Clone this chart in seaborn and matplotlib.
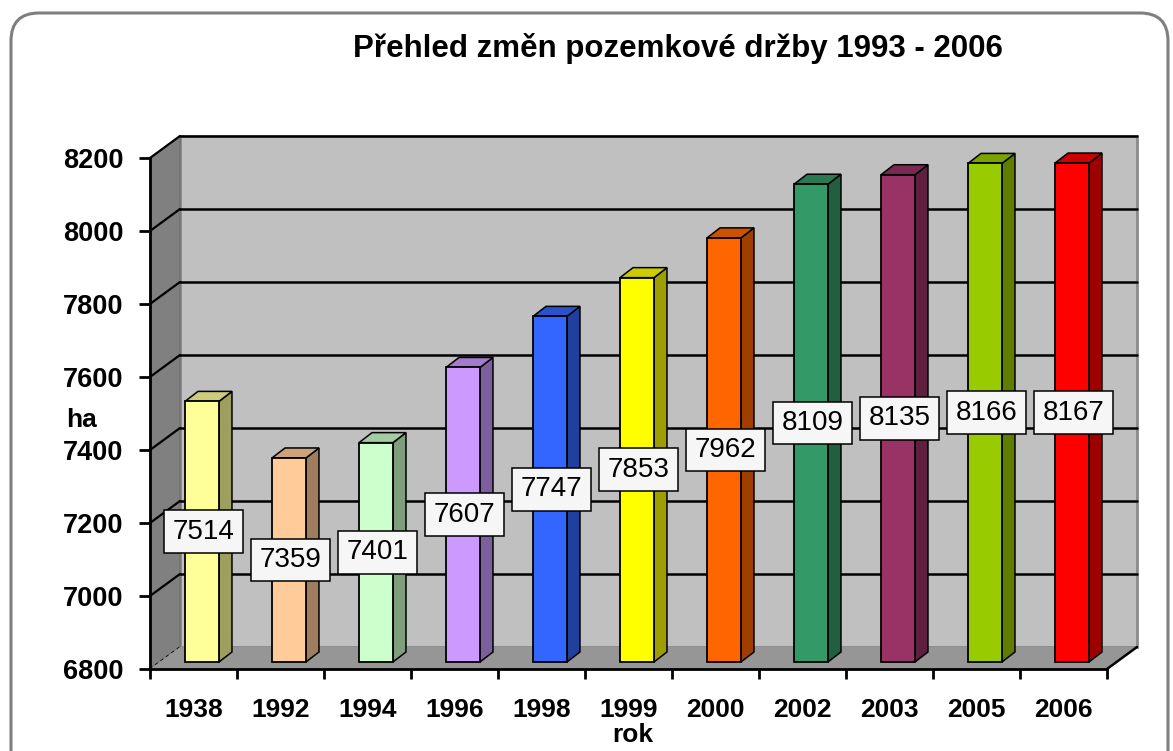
import numpy as np
import pandas as pd
import matplotlib
matplotlib.use("Agg")
import matplotlib.pyplot as plt
import seaborn as sns
from matplotlib.patches import Polygon, FancyBboxPatch, Rectangle
from matplotlib.lines import Line2D
from matplotlib.transforms import ScaledTranslation, IdentityTransform
from matplotlib.colors import to_rgb

# ---------------- data ----------------
years = ["1938", "1992", "1994", "1996", "1998", "1999", "2000", "2002", "2003", "2005", "2006"]
values = [7514, 7359, 7401, 7607, 7747, 7853, 7962, 8109, 8135, 8166, 8167]
colors = ["#FFFF99", "#FFCC99", "#CCFFCC", "#CC99FF", "#3366FF", "#FFFF00",
          "#FF6600", "#339966", "#993366", "#99CC00", "#FF0000"]
yticks = [6800, 7000, 7200, 7400, 7600, 7800, 8000, 8200]
title = "Přehled změn pozemkové držby 1993 - 2006"
ylabel = "ha"
xlabel = "rok"

BASE = yticks[0]
TOP = yticks[-1]

W, H = 1173, 751
sns.set_theme(style="white")
plt.rcParams['font.family'] = ['Liberation Sans', 'DejaVu Sans']
plt.rcParams['text.color'] = 'black'
plt.rcParams['xtick.color'] = 'black'
plt.rcParams['ytick.color'] = 'black'

fig = plt.figure(figsize=(W / 100, H / 100), dpi=100)
fig.patch.set_facecolor("white")

# rounded outer frame (pixel coords)
frame = FancyBboxPatch((11, -40), 1157, 751 - 13 + 40,
                       boxstyle="round,pad=0,rounding_size=28",
                       transform=IdentityTransform(), facecolor="white",
                       edgecolor="#7f7f7f", linewidth=2.2, zorder=0)
fig.add_artist(frame)

# front plane axes
ax = fig.add_axes([150 / W, (H - 669) / H, 957 / W, 511 / H])
ax.patch.set_visible(False)

df = pd.DataFrame({"rok": years, "ha": values})
sns.barplot(data=df, x="rok", y="ha", hue="rok", palette=colors, legend=False,
            width=0.39, saturation=1, edgecolor="black", linewidth=1.3, ax=ax,
            zorder=3)
bars = sorted([p for p in ax.patches if isinstance(p, Rectangle)], key=lambda p: p.get_x())

ax.set_xlim(-0.5, len(years) - 0.5)
ax.set_ylim(BASE, TOP)
ax.set_autoscale_on(False)
ax.set_yticks(yticks)

def px_offset(dx, dy):
    return ScaledTranslation(dx / 100, dy / 100, fig.dpi_scale_trans)

WALL_D = (30, 22)   # depth of the box (pixels)
BAR_O = (8.5, 7)    # bars sit inside the box
BAR_D = (13, 10)    # bar depth

def disp(x, y, off=(0, 0)):
    p = ax.transData.transform((x, y))
    return (p[0] + off[0], p[1] + off[1])

x_lo, x_hi = -0.5, len(years) - 0.5
ident = IdentityTransform()

# back wall
back = Polygon([disp(x_lo, BASE, WALL_D), disp(x_hi, BASE, WALL_D),
                disp(x_hi, TOP, WALL_D), disp(x_lo, TOP, WALL_D)],
               closed=True, transform=ident, facecolor="#C0C0C0",
               edgecolor="#8a8a8a", linewidth=2, zorder=0.5, clip_on=False)
ax.add_artist(back)
# left wall
left = Polygon([disp(x_lo, BASE), disp(x_lo, TOP),
                disp(x_lo, TOP, WALL_D), disp(x_lo, BASE, WALL_D)],
               closed=True, transform=ident, facecolor="#808080",
               edgecolor="#707070", linewidth=1, zorder=0.6, clip_on=False)
ax.add_artist(left)
# gridlines on back wall and left wall
for yv in yticks:
    a = disp(x_lo, yv, WALL_D)
    b = disp(x_hi, yv, WALL_D)
    if yv != BASE:
        ax.add_artist(Line2D([a[0], b[0]], [a[1], b[1]], color="black", lw=1.8,
                             transform=ident, zorder=0.7, clip_on=False))
    f = disp(x_lo, yv)
    ax.add_artist(Line2D([f[0], a[0]], [f[1], a[1]], color="black",
                         lw=1.2 if yv == BASE else 1.6,
                         ls=(0, (2, 2)) if yv == BASE else "-",
                         transform=ident, zorder=0.75, clip_on=False))
# floor
floor = Polygon([disp(x_lo, BASE), disp(x_hi, BASE),
                 disp(x_hi, BASE, WALL_D), disp(x_lo, BASE, WALL_D)],
                closed=True, transform=ident, facecolor="#969696",
                edgecolor="none", zorder=0.8, clip_on=False)
ax.add_artist(floor)
a = disp(x_hi, BASE)
b = disp(x_hi, BASE, WALL_D)
ax.add_artist(Line2D([a[0], b[0]], [a[1], b[1]], color="black", lw=1.8,
                     transform=ident, zorder=0.85, clip_on=False))

# bars: move to inner plane, start at BASE, add 3D faces
bar_trans = ax.transData + px_offset(*BAR_O)
for p, col in zip(bars, colors):
    top = p.get_y() + p.get_height()
    p.set_y(BASE)
    p.set_height(top - BASE)
    p.set_transform(bar_trans)
    p.set_clip_on(False)
    x0, x1 = p.get_x(), p.get_x() + p.get_width()
    c = np.array(to_rgb(col))
    br = disp(x1, BASE, BAR_O)
    tr = disp(x1, top, BAR_O)
    tl = disp(x0, top, BAR_O)
    side = Polygon([br, tr, (tr[0] + BAR_D[0], tr[1] + BAR_D[1]),
                    (br[0] + BAR_D[0], br[1] + BAR_D[1])], closed=True,
                   transform=ident, facecolor=c * 0.62, edgecolor="black",
                   linewidth=1.1, zorder=2.9, clip_on=False)
    topf = Polygon([tl, tr, (tr[0] + BAR_D[0], tr[1] + BAR_D[1]),
                    (tl[0] + BAR_D[0], tl[1] + BAR_D[1])], closed=True,
                   transform=ident, facecolor=c * 0.8, edgecolor="black",
                   linewidth=1.1, zorder=2.9, clip_on=False)
    ax.add_artist(side)
    ax.add_artist(topf)

# value labels
lab_trans = ax.transData + px_offset(BAR_O[0] + 1.5, BAR_O[1])
for i, v in enumerate(values):
    ax.text(i, (BASE + v) / 2, str(v), transform=lab_trans, ha="center", va="center",
            fontsize=20, color="black", zorder=6,
            bbox=dict(boxstyle="square,pad=0.3", facecolor="#F6F6F6",
                      edgecolor="black", linewidth=1.1))

# spines and ticks
for s in ["top", "right"]:
    ax.spines[s].set_visible(False)
for s in ["left", "bottom"]:
    ax.spines[s].set_color("black")
    ax.spines[s].set_linewidth(2)
    ax.spines[s].set_zorder(1)
ax.set_xticks(np.arange(len(years)))
ax.set_xticks(np.arange(len(years) + 1) - 0.5, minor=True)
ax.tick_params(axis="x", which="major", bottom=True, length=0, pad=21,
               labelsize=19, labelcolor="black")
ax.tick_params(axis="x", which="minor", bottom=True, length=7, width=2,
               color="black", direction="out")
ax.tick_params(axis="y", which="major", left=True, length=8, width=2, color="black",
               direction="out", pad=11, labelsize=19.5, labelcolor="black")
for lbl in ax.get_xticklabels() + ax.get_yticklabels():
    lbl.set_fontweight("bold")
ax.set_xlabel("")
ax.set_ylabel("")
ax.grid(False)

fig.text(81 / W, 1 - 420 / H, ylabel, ha="center", va="center", fontsize=19,
         fontweight="bold", color="black")
fig.text(633 / W, 1 - 735 / H, xlabel, ha="center", va="center", fontsize=19,
         fontweight="bold", color="black")
fig.text(678 / W, 1 - 49 / H, title, ha="center", va="center", fontsize=22.5,
         fontweight="bold", color="black")

fig.savefig("out.png", dpi=100)
